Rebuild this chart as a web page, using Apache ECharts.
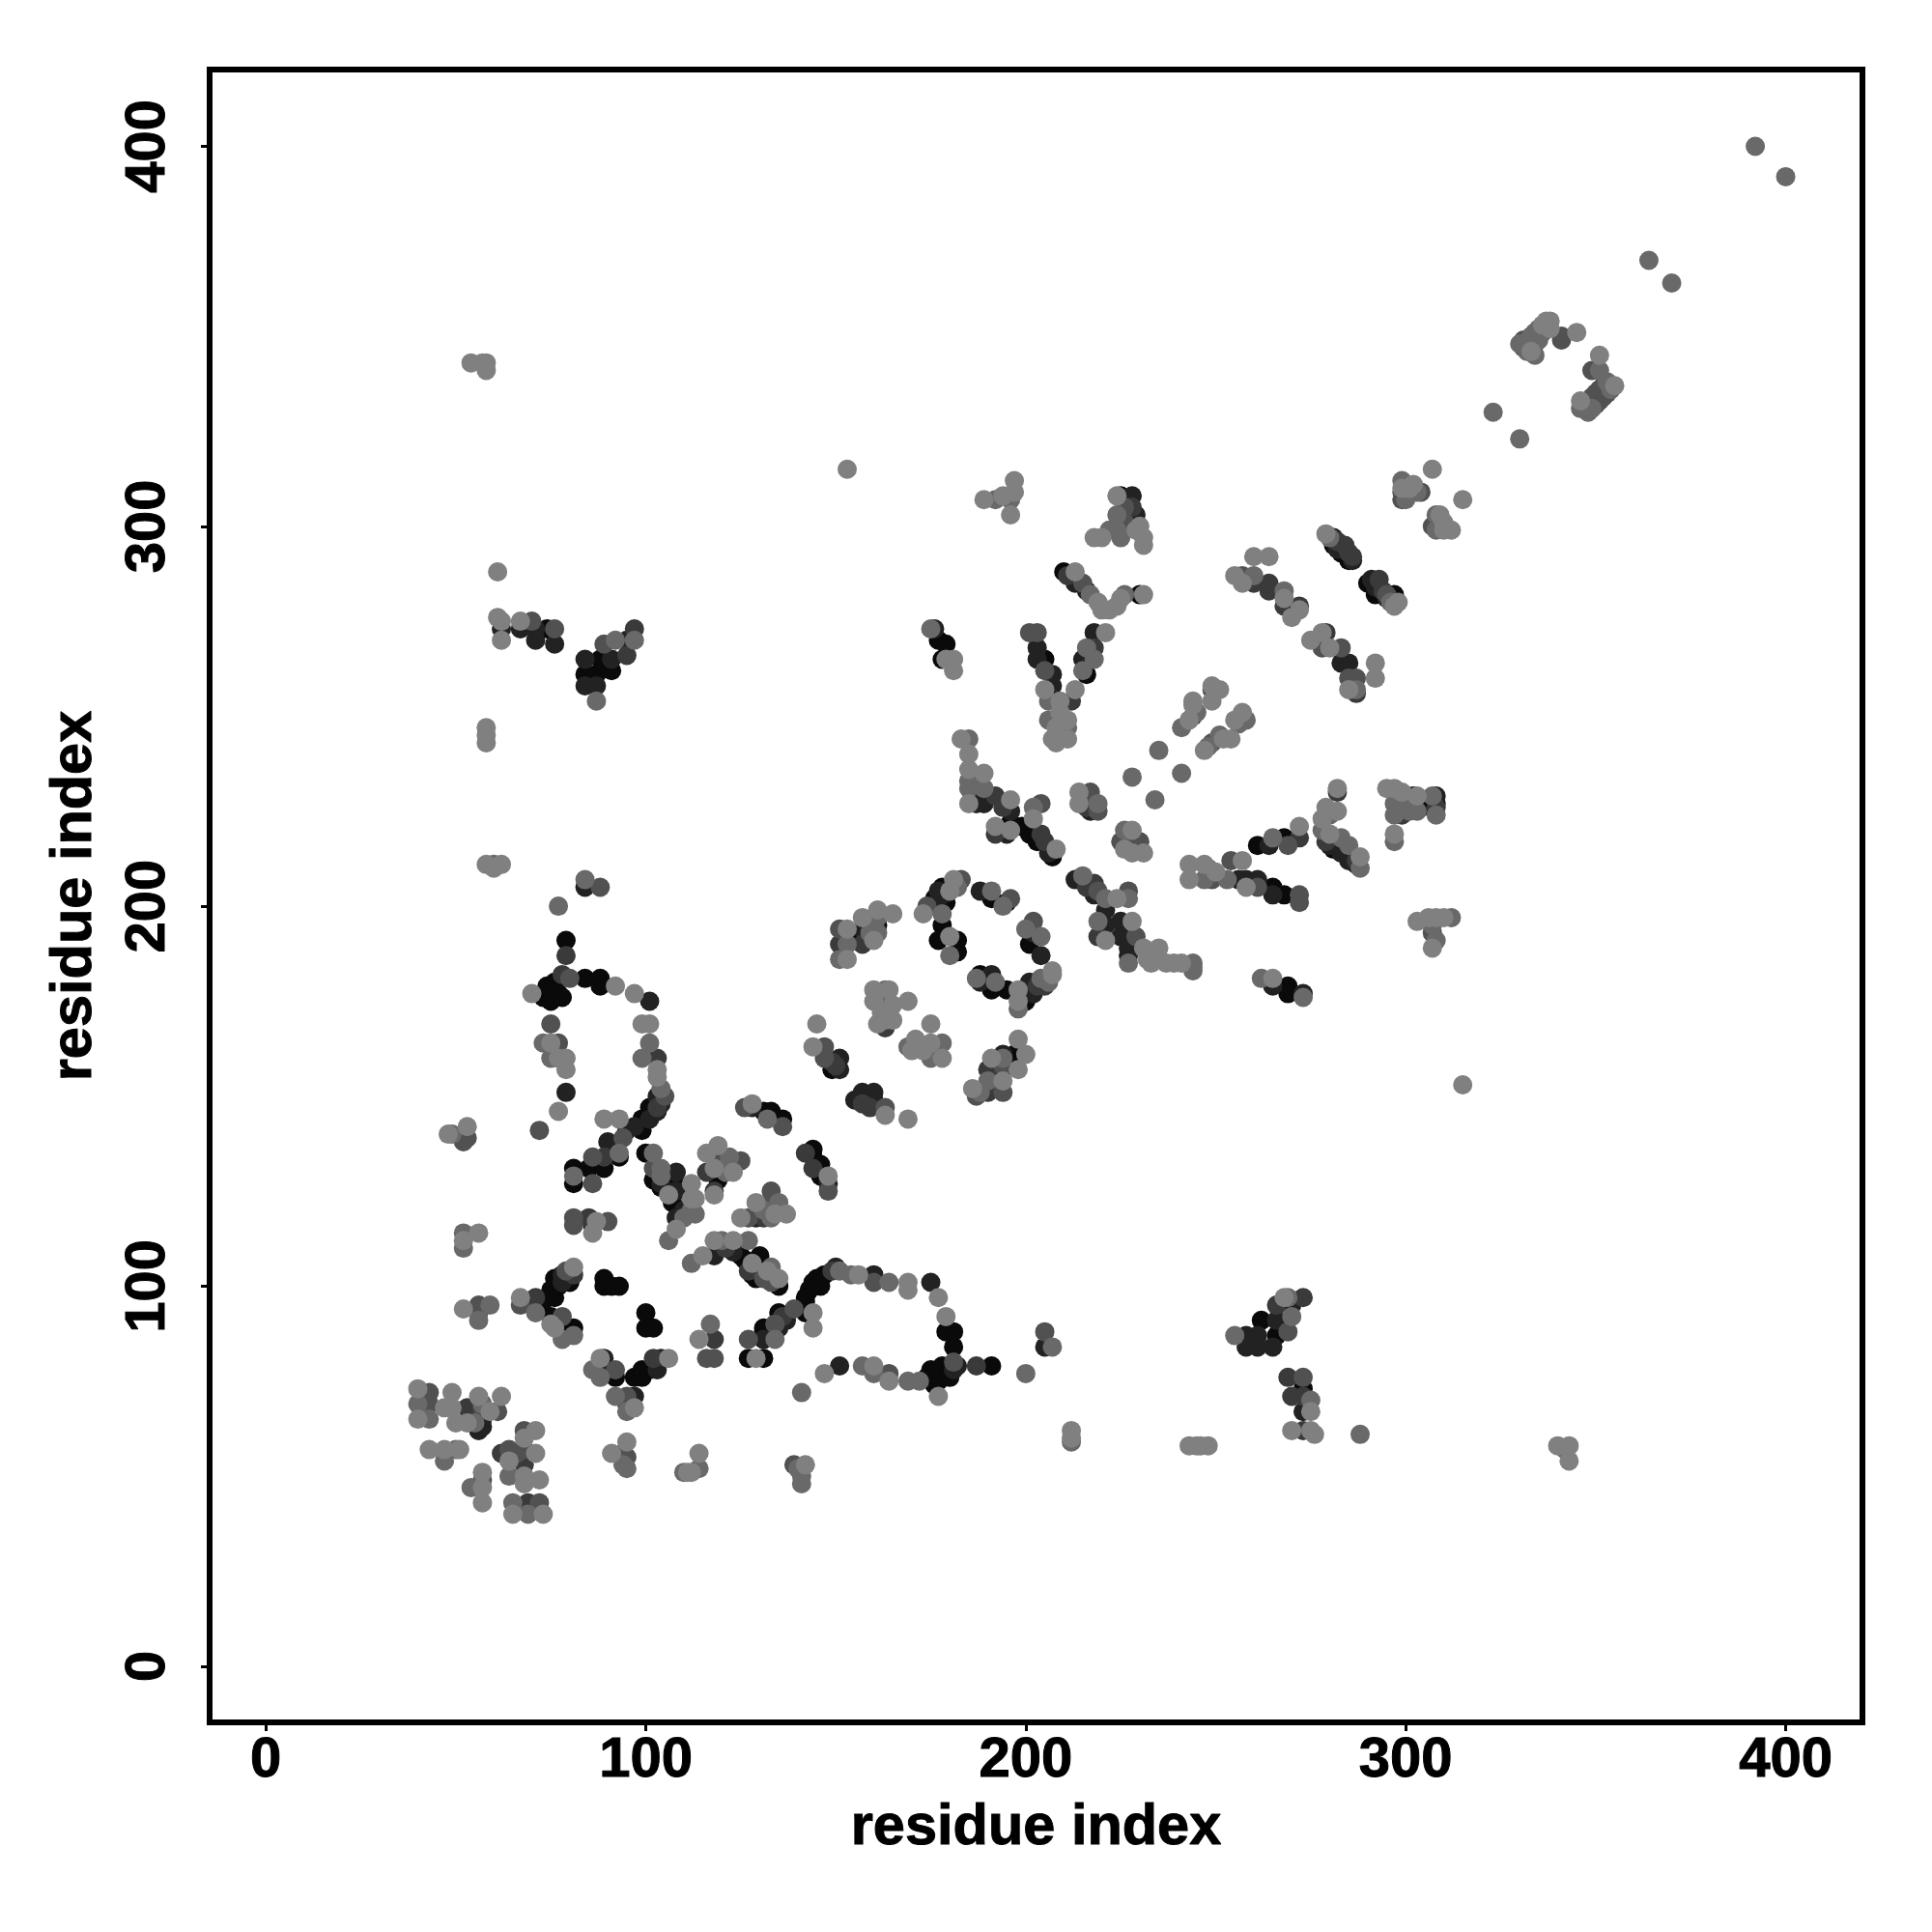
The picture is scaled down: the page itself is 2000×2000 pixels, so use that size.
<!DOCTYPE html>
<html><head><meta charset="utf-8">
<script src="https://cdn.jsdelivr.net/npm/echarts@6/dist/echarts.min.js"></script>
<style>html,body{margin:0;padding:0;background:#fff}#c{width:2000px;height:2000px}</style>
</head><body><div id="c"></div>
<script>
// [residue i, residue j, contact level 0 (strong) .. 5 (weak)]
const tickValues=[0,100,200,300,400];
const axisTitle='residue index';
const farUpper=[[392,400,4],[400,392,4],[364,370,4],[370,364,4],[323,330,4],[330,323,4],[153,315,5],[315,153,5],[61,288,5],
[54,343,5],[57,343,5],[58,343,5],[58,341,5],[58,247,5],[58,245,5],[58,243,5],[58,211,5],[60,211,4],[62,211,5],[60,210,5]];
const ringHigh=[[330,348,4],[331,347,3],[331,349,3],[332,349,3],[332,346,4],[333,350,4],[333,346,5],[334,345,4],[334,348,3],[334,351,4],[335,349,4],[335,352,4],[336,351,4],[336,353,5],[337,354,5],[338,354,5],[338,352,5],[341,350,3],[341,349,3],[345,351,5],
[351,345,5],[349,341,3],[351,341,4],[355,337,5],[354,336,4],[353,338,4],[353,335,3],[352,334,3],[352,337,3],[351,333,3],[351,336,3],[350,332,3],[350,335,3],[349,331,4],[349,334,3],[348,330,4],[346,333,5],[346,331,4]];
const upperRight=[[299,312,4],[299,310,5],[299,309,3],[299,307,3],[300,307,4],[301,310,5],[302,311,5],[303,309,4],[304,309,3],[307,315,5],[315,307,5],[308,303,4],[309,303,5],[307,300,3],[308,299,4],[310,299,5],[312,299,5],[310,301,5],[309,300,3],
[260,292,5],[264,292,5],[255,287,5],[257,287,3],[257,285,5],[260,287,4],[260,285,2],[264,285,2],[264,283,2],[268,283,4],[268,281,5],[268,279,2],[270,276,5],[272,279,2],[272,278,5],
[279,298,5],[280,297,4],[281,297,1],[282,296,2],[281,295,0],[282,294,1],[283,293,0],[284,295,2],[285,293,2],[286,292,2],[285,291,0],[286,291,1],
[291,286,1],[293,286,2],[290,285,0],[292,284,1],[292,282,0],[294,283,2],[295,282,3],[295,281,1],[297,282,0],[296,280,4],[298,280,5],[297,279,5],
[275,270,5],[278,272,5],[279,272,2],[278,268,3],[280,268,5],[283,268,3],[283,264,1],[285,264,1],[285,260,3],[287,260,3],[285,257,5],[287,257,4],[287,256,2],[292,264,5],[292,260,5]];
const diagonalArms=[[249,258,5],[251,257,5],[249,257,3],[249,254,5],[244,254,5],[244,253,5],[245,251,4],[244,250,2],[243,249,5],[241,247,4],[257,251,5],[255,249,5],[258,249,4],[256,248,4],[254,244,5],[252,244,5],[251,245,4],[249,243,3],[248,242,4],[247,241,5],[235,241,4],[228,234,4],[241,235,4],[234,228,4]];
const rightCorner=[[295,231,5],[297,231,5],[299,230,5],[300,229,4],[297,227,4],[300,227,2],[298,225,3],[299,224,2],[297,224,4],[301,225,4],[302,229,0],[303,229,5],[304,226,0],[303,225,4],[307,229,4],[308,229,1],[308,227,0],[308,226,2],[308,224,4],[297,219,5],[297,217,4],
[282,231,5],[282,230,2],[278,223,5],[278,220,4],[279,226,5],[280,224,4],[282,225,5],[279,217,2],[280,216,1],[281,215,0],[283,214,1],[285,212,1],[287,211,0],[288,210,4],[280,219,5],[283,218,4],[285,216,4],[288,213,5],[287,212,2]];
const rightFork=[[243,211,5],[243,207,5],[247,211,5],[247,207,4],[248,210,4],[249,207,3],[250,209,5],[253,207,4],[254,212,3],[257,212,5],[261,216,0],[264,216,1],[265,218,4],[268,218,0],[269,216,3],[272,218,2],[272,221,5],
[256,207,1],[258,207,1],[258,205,5],[261,207,1],[261,205,3],[265,205,0],[265,203,1],[268,203,0],[272,203,3],[272,201,3],
[303,196,5],[306,197,5],[308,197,5],[310,197,5],[312,197,4],[307,195,4],[307,193,3],[308,191,4],[307,189,5],
[262,181,4],[265,179,1],[265,181,5],[269,179,0],[269,177,0],[273,176,4],[273,177,1]];
const midUpper=[[175,273,4],[176,273,1],[177,270,0],[179,269,0],[178,265,0],[179,265,5],[181,265,5],[181,262,5],
[201,272,3],[203,272,3],[203,268,1],[203,265,1],[205,265,0],[205,262,3],[207,261,1],[207,258,1],[205,257,5],[206,254,4],[209,254,5],[212,254,2],[213,257,5],[216,261,0],[215,262,4],[215,265,1],[218,265,4],[216,268,4],[218,268,2],[218,272,1],[221,272,5],[206,249,4],[208,247,5],[211,249,5],[211,247,4],[207,244,5],[208,243,5],[211,244,5],[209,251,5],
[183,244,5],[185,244,4],[185,240,5],[185,236,5],[185,233,4],[185,231,4],[185,227,5],[187,227,1],[189,227,1],[189,231,4],[189,235,5],[192,229,2],[194,226,2],[196,228,5],[196,225,1],[192,221,5],[192,219,2],[195,219,1],[196,222,0],[196,220,5],[199,221,0],[202,226,4],[204,227,3],[202,223,5],[201,219,0],[203,217,0],[204,219,2],[205,217,2],[207,213,0],[208,215,5],[206,214,1],
[214,230,5],[217,230,3],[214,227,5],[216,226,2],[217,225,1],[219,227,4],[219,225,3],[226,220,4],[228,220,5],[225,217,3],[228,216,3],[226,215,5],[230,217,3],[228,214,5],[231,214,5],
[224,308,5],[225,308,0],[228,308,1],[226,305,3],[228,305,2],[224,303,4],[225,303,0],[229,303,1],[224,299,4],[222,299,4],[225,297,4],[226,301,3],[228,301,0],[229,299,5],[230,300,5],[231,297,5],[231,295,5],[218,297,5],[220,297,5],
[210,288,0],[211,287,2],[213,288,5],[213,285,1],[215,285,3],[216,283,1],[217,282,4],[219,280,5],[220,278,5],[222,278,5],[224,279,5],[225,281,5],[226,282,4],[230,282,0],[231,282,5],
[189,307,5],[192,307,4],[194,308,5],[196,307,4],[197,309,5],[197,312,5],[196,303,5]];
const centerRing=[[173,198,5],[174,200,3],[176,202,0],[176,200,1],[177,204,1],[178,205,0],[178,203,1],[179,201,0],[178,198,4],[178,195,0],[180,192,5],[177,191,0],[182,191,0],[182,188,0],[180,187,4],[180,204,5],[181,207,5],[183,207,3],[182,205,4],
[188,204,1],[191,202,0],[191,204,4],[194,200,4],[195,201,0],[196,202,3],[200,194,4],[202,196,3],[202,193,1],[201,190,0],[204,192,4],[204,187,1],
[187,181,4],[188,182,0],[191,182,1],[188,180,1],[191,178,0],[192,180,4],[195,178,0],[198,173,4],[198,175,5],[198,178,5],[200,176,0],[200,175,0],[201,178,0],[202,177,1],[201,180,1],[203,179,2],[205,179,2],[204,181,4],[206,180,4],[207,183,5],[207,182,5]];
const centerPatches=[[151,194,3],[151,190,2],[151,186,4],[153,186,5],[153,190,4],[153,194,5],[157,194,1],[157,190,2],[157,197,5],[157,192,0],[160,191,5],[161,193,4],[161,195,0],[161,197,4],[161,199,5],[165,198,5],[159,193,4],
[160,178,5],[164,178,5],[163,178,4],[160,175,5],[162,176,4],[165,174,5],[169,175,5],[162,172,5],[163,170,5],[163,168,2],[165,170,5],[161,169,5],
[175,169,5],[178,164,4],[178,160,5],[175,160,4],[175,164,5],[171,165,5],[169,163,4],[170,162,5],[173,162,5],[176,162,3],
[198,165,5],[197,161,0],[200,161,5],[194,161,1],[194,160,4],[191,160,5],[198,157,5],[194,157,0],[194,158,3],[190,157,2],[190,154,4],[194,154,5],[190,151,2],[194,151,3],[192,152,2],[186,152,5],[188,151,4],[187,150,3],
[145,169,5],[144,163,5],[147,163,3],[147,160,3],[149,159,2],[151,160,1],[149,157,0],[151,157,1],[150,158,2],
[155,149,1],[157,151,1],[160,151,1],[157,148,2],[159,147,2],[160,149,1],[163,147,3],[163,145,5],[169,144,5]];
const strands=[[142,135,2],[144,134,0],[144,136,0],[146,132,0],[144,131,2],[146,129,0],[148,129,5],[148,127,1],[148,125,3],
[126,147,3],[128,147,1],[128,148,5],[131,146,0],[132,144,4],[133,146,0],[136,144,0],[136,142,3],
[116,135,5],[119,137,5],[118,134,3],[122,134,4],[125,133,3],[116,130,2],[118,131,5],[119,128,0],[121,130,4],[123,130,5],[118,125,2],[118,124,5],[120,131,1],
[81,131,0],[81,129,4],[81,127,0],[86,127,3],[85,131,0],[86,134,3],[89,131,0],[89,134,2],[90,138,1],[93,134,0],[93,135,4],[94,139,3],[89,144,5],[93,144,5],[95,141,1],[97,142,1],[99,141,0],[99,144,0],[101,144,1],[103,146,1],[101,147,0],[103,147,2],[104,148,1],[103,150,1],[105,150,3],[104,152,4]];
const leftLoop=[[84,205,1],[84,207,4],[88,205,3],[77,200,4],[79,191,0],[79,187,2],[78,182,2],[74,179,0],[76,180,0],[75,177,0],[77,177,0],[73,176,0],[75,175,0],[78,176,0],[70,177,5],[80,181,3],[84,181,0],[88,181,0],[88,179,0],[92,179,5],[97,177,5],[101,175,1],[75,169,3],[73,164,4],[75,164,5],[77,164,3],[75,160,4],[77,160,5],[79,160,5],[79,157,5],[79,151,1],[77,146,5],[72,141,3],[99,169,5],[101,169,5],[101,164,4],[99,160,4],[103,160,2],[103,157,5],[103,155,5],
[48,140,5],[49,140,4],[53,142,5],[53,139,3],[52,138,3],
[62,273,1],[67,273,1],[70,275,3],[71,273,1],[71,270,1],[74,273,0],[76,273,3],[76,269,1],[62,270,5],[61,276,5],[62,275,5],[67,275,5],
[84,265,1],[84,261,0],[84,258,1],[87,258,1],[87,254,4],[87,261,0],[88,265,0],[89,269,3],[91,262,0],[91,265,1],[92,270,4],[95,266,2],[95,270,1],[97,273,2],[97,270,4]];
const lowerStrands=[[100,135,0],[102,135,4],[102,131,3],[104,131,4],[102,128,0],[104,127,1],[104,126,0],[108,130,1],[108,127,0],[112,127,5],[108,125,1],[112,123,5],[107,122,0],[110,120,1],[113,123,5],[113,119,4],[112,120,4],[110,118,4],[108,118,1],[108,115,5],[106,112,4],[106,124,5],[104,129,4],
[129,122,5],[133,125,3],[133,122,3],[131,120,4],[135,122,4],[125,118,5],[127,118,3],[129,118,1],[131,118,2],[133,118,4],[134,119,5],[137,119,5],
[112,106,4],[115,108,5],[118,108,1],[118,112,5],[120,112,4],[121,110,2],[123,112,5],[123,109,1],[125,108,0],[127,112,4],[126,107,0],[128,105,0],[130,108,0],[128,106,5],[127,104,2],[128,103,0],[129,102,0],[131,102,3],[132,104,5],[133,105,4],[135,102,5],[135,100,0],[133,101,3]];
const lowerLeft=[[52,114,4],[56,114,5],[52,112,5],[52,110,4],[52,94,5],[56,95,3],[56,93,3],[59,95,4],[56,91,4],
[81,118,3],[81,116,3],[85,118,2],[86,116,0],[87,117,5],[86,114,5],[90,117,3],
[67,97,5],[67,95,3],[71,97,2],[71,93,4],[73,96,0],[75,99,0],[76,97,0],[77,100,0],[76,102,0],[78,101,1],[78,103,1],[79,104,3],[80,101,0],[81,103,2],[81,105,5],
[75,92,0],[78,92,3],[75,90,5],[76,89,5],[78,88,0],[78,86,4],[81,89,0],[81,87,4],[89,102,0],[89,100,0],[91,100,0],[93,100,0],[100,93,0],[100,89,0],[102,89,0],
[117,90,4],[114,86,5],[118,86,2],[116,81,3],[118,81,3],[127,86,3],[127,81,0],[129,81,5],[131,81,0],[131,86,0],[131,89,0],[134,90,2],
[86,78,4],[88,81,5],[89,81,1],[88,78,0],[90,78,1],[92,78,3],[92,76,0],[88,76,4],[92,71,4],[95,71,3],[95,69,2],[95,67,4],[97,68,5],[97,71,1],[97,76,0],[99,76,0],[99,78,0],[101,78,0],[102,81,2],[103,78,1],[104,81,1],[106,81,5]];
const bottomPatches=[[40,73,5],[43,72,3],[40,69,4],[43,69,3],[40,65,5],[43,65,4],[49,72,5],[47,68,5],[49,68,5],[50,64,5],[53,64,5],[53,68,2],[56,71,5],[57,68,3],[57,65,1],[57,63,1],[56,62,1],[62,71,5],[61,67,3],[59,67,5],[57,69,4],[55,64,4],
[43,57,5],[47,57,5],[47,54,4],[50,57,4],[51,57,5],[57,51,5],[57,49,3],[54,47,4],[57,47,5],[57,43,5],
[62,56,2],[64,57,3],[66,56,3],[68,62,3],[68,60,5],[71,62,5],[68,57,3],[71,56,5],[68,53,2],[64,54,5],[64,50,4],[68,50,5],[68,48,5],[72,49,5],[65,43,4],[69,43,2],[72,43,3],[65,40,5],[69,40,4],[73,40,5],
[91,56,5],[95,59,5],[94,56,2],[95,55,3],[94,53,4],[95,52,4],[110,51,4],[111,51,5],[114,56,5],[114,52,4],[112,51,5],
[139,53,3],[140,52,4],[142,53,5],[141,50,4],[141,48,4],[212,62,5],[212,60,5],[212,59,4],[243,58,5],[245,58,5],[246,58,5],[248,58,5],[340,58,5],[343,58,5],[343,54,5],[342,57,4]];
const lowerArc=[[205,88,3],[205,84,1],[207,84,4],[200,77,4],[187,79,2],[191,79,0],[151,79,1],[147,77,5],[141,72,4],[157,79,4],[160,79,5],[160,77,4],[164,75,5],[164,77,3],[169,75,4],
[172,75,4],[174,76,0],[175,78,0],[176,74,0],[177,71,5],[177,75,0],[178,77,0],[178,79,0],[180,76,0],[181,78,1],[182,79,1],[181,80,3],[181,84,0],[179,88,0],[181,88,0],[179,92,5],[177,97,5],[175,101,1],[169,101,5],[169,99,5],[164,101,4],[160,103,1],[160,101,3],[156,103,5],[154,103,4],[150,105,1],[151,104,4],[149,104,2],[147,103,0],[145,102,0],[146,100,0],[144,101,0],[143,99,0],[142,97,0],[142,96,0],
[144,93,5],[144,89,5],[142,93,0],[139,94,3],[135,93,0],[137,91,1],[136,92,2],[134,90,3],[135,89,1],[131,88,0],[131,86,1],[134,86,4]];
const lowerRight=[[255,87,4],[258,87,1],[258,84,1],[261,84,1],[262,91,0],[261,87,1],[265,84,1],[266,87,0],[266,91,1],[269,88,3],[266,95,2],[270,92,4],[269,97,4],[268,97,5],[270,95,1],[273,97,2],
[269,76,2],[273,76,3],[270,71,2],[273,73,0],[273,71,2],[275,70,4],[273,67,1],[275,67,5],[270,62,5],[273,62,2],[275,62,5],[276,61,5],[288,61,4]];
const diagonalTail=[[213,207,1],[215,208,4],[216,205,2],[218,203,1],[219,204,3],[218,206,2],[221,202,4],[221,199,1],[224,202,5],[227,204,3],[227,202,4],[219,196,4],[219,192,2],[221,195,1],[221,191,5],[225,196,1],[228,196,5],[225,192,1],[229,192,3],[227,189,1],[227,187,1],[227,185,4],[231,189,5],[232,186,5],[233,185,5],[235,189,5],[235,186,5],[237,185,5],[239,185,5],[241,185,5],[244,185,4],[244,183,4],[244,184,4]];

const contacts=[].concat(farUpper,ringHigh,upperRight,diagonalArms,rightCorner,rightFork,midUpper,centerRing,centerPatches,strands,leftLoop,lowerStrands,lowerLeft,bottomPatches,lowerArc,lowerRight,diagonalTail);
const ramp=['#0a0a0a','#222222','#3a3a3a','#515151','#696969','#808080'];
const ordered=contacts.slice().sort((a,b)=>a[2]-b[2]);
const font='"Liberation Sans"';
const labelStyle={fontFamily:font,fontWeight:'bold',fontSize:58,color:'#000',textBorderColor:'#000',textBorderWidth:1,customValues:tickValues,hideOverlap:false};
function axis(extra){return Object.assign({type:'value',min:-14.8,max:420.2,name:axisTitle,nameLocation:'middle',
  nameTextStyle:{fontFamily:font,fontWeight:'bold',fontSize:59.5,color:'#000',textBorderColor:'#000',textBorderWidth:1},
  axisLine:{show:false,onZero:false},splitLine:{show:false},
  axisTick:{show:true,inside:false,length:9,lineStyle:{color:'#000',width:3},customValues:tickValues},
},extra);}
const chart=echarts.init(document.getElementById('c'),null,{renderer:'canvas'});
chart.setOption({animation:false,backgroundColor:'#fff',
 grid:{left:217,top:72,width:1711,height:1711,show:true,borderColor:'#000',borderWidth:6,backgroundColor:'transparent'},
 xAxis:axis({nameGap:80,axisLabel:Object.assign({},labelStyle,{margin:11})}),
 yAxis:axis({nameGap:109,axisLabel:Object.assign({},labelStyle,{margin:34,rotate:90,align:'center',verticalAlign:'bottom'})}),
 series:[{type:'scatter',data:ordered,symbol:'circle',symbolSize:20,encode:{x:0,y:1},
   itemStyle:{opacity:1,color:p=>ramp[p.value[2]]},emphasis:{disabled:true},z:1}]
});
</script></body></html>
